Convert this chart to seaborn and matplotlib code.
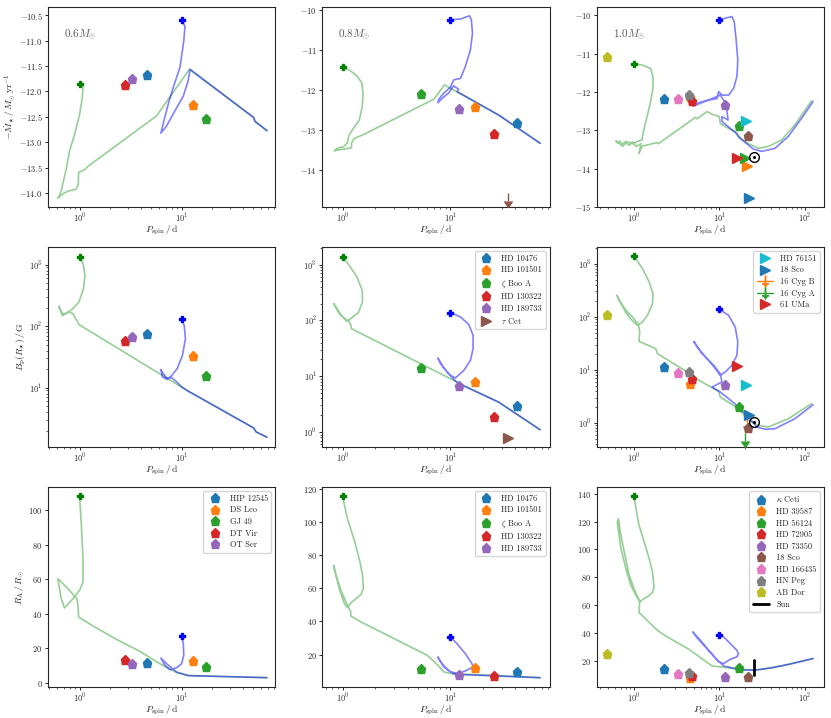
import numpy as np
import pandas as pd
import matplotlib.pyplot as plt
from matplotlib.lines import Line2D
import seaborn as sns

# ---------------------------------------------------------------
# evolution tracks: (P_spin [d], value)
# "fast" = start at 1 d (green), "slow" = start at 10 d (blue)
# ---------------------------------------------------------------
# 0.6 Msun
fast06_mdot = [(1.0, -11.845), (1.08, -11.89), (1.062, -12.12), (1.0, -12.45), (0.893, -12.84),
               (0.797, -13.17), (0.739, -13.52), (0.696, -13.75), (0.660, -13.95), (0.626, -14.08),
               (0.612, -14.09), (0.686, -14.01), (0.768, -13.96), (0.927, -13.92), (0.97, -13.82),
               (0.977, -13.59), (1.12, -13.54), (1.21, -13.47), (5.68, -12.48), (11.9, -11.565),
               (50.7, -12.51), (52.6, -12.59), (68.6, -12.77)]
slow06_mdot = [(10.0, -10.60), (10.8, -10.72), (10.5, -11.01), (9.63, -11.53), (8.28, -11.92),
               (7.39, -12.25), (6.70, -12.58), (6.26, -12.82), (7.12, -12.68), (8.6, -12.38),
               (10.4, -12.09), (11.6, -11.79), (12.1, -11.565), (50.7, -12.51), (52.6, -12.59),
               (68.6, -12.77)]
fast06_B = [(1.0, 1333), (1.08, 1038), (1.13, 671), (1.09, 407), (0.985, 247), (0.847, 188),
            (0.739, 160), (0.676, 150), (0.626, 210), (0.650, 181), (0.696, 154), (0.768, 170),
            (0.859, 160), (0.963, 114), (0.985, 106), (11.2, 9.06), (50.7, 2.21), (53.8, 1.90),
            (68.6, 1.56)]
slow06_B = [(10.0, 132), (10.6, 103), (10.9, 62.6), (10.2, 33.6), (9.06, 20.4), (7.97, 15.5),
            (7.12, 13.7), (6.5, 14.9), (6.26, 19.6), (6.6, 16.9), (7.23, 14.0), (7.97, 14.5),
            (8.93, 12.4), (10.0, 10.3), (11.2, 9.06), (50.7, 2.21), (53.8, 1.90), (68.6, 1.56)]
fast06_RA = [(1.0, 108.1), (1.04, 91.3), (1.08, 72.0), (1.08, 58.4), (1.0, 53.6), (0.86, 48.7),
             (0.711, 43.3), (0.66, 48.7), (0.626, 56.5), (0.612, 60.3), (0.686, 57.4),
             (0.768, 54.5), (0.94, 48.7), (0.963, 44.9), (0.977, 38.1), (1.35, 32.9), (2.30, 25.1),
             (3.89, 18.2), (6.12, 11.0), (8.93, 5.8), (11.6, 4.1), (68.6, 2.9)]
slow06_RA = [(10.0, 27.1), (10.4, 22.6), (10.5, 15.9), (10.0, 11.0), (8.93, 8.7), (7.68, 7.5),
             (6.85, 10.1), (6.26, 14.3), (7.12, 11.0), (8.93, 6.2), (11.6, 4.1), (68.6, 2.9)]

# 0.8 Msun
fast08_mdot = [(1.0, -11.44), (1.15, -11.5), (1.36, -11.65), (1.51, -11.83), (1.55, -12.08),
               (1.52, -12.42), (1.43, -12.75), (1.26, -12.96), (1.15, -13.125), (1.10, -13.33),
               (1.02, -13.42), (0.932, -13.44), (0.868, -13.48), (0.838, -13.52), (0.90, -13.5),
               (1.04, -13.475), (1.21, -13.44), (1.21, -13.33), (1.28, -13.21), (1.53, -13.125),
               (7.02, -12.23), (8.8, -11.875), (27.9, -12.625), (67.7, -13.33)]
slow08_mdot = [(10.0, -10.25), (12.4, -10.23), (15.0, -10.15), (15.6, -10.25), (16.0, -10.58),
               (15.3, -11.0), (13.7, -11.42), (12.4, -11.71), (10.7, -11.75), (10.0, -11.93),
               (8.68, -12.08), (7.8, -12.23), (7.64, -12.32), (8.38, -12.21), (9.66, -12.07),
               (10.7, -11.9), (11.9, -11.98), (11.5, -12.04), (27.9, -12.625), (67.7, -13.33)]
fast08_B = [(1.0, 1372), (1.15, 973), (1.36, 601), (1.52, 347), (1.53, 214), (1.40, 138),
            (1.19, 108), (1.10, 96), (0.932, 132), (0.826, 200), (0.868, 174), (1.0, 115),
            (1.15, 96), (1.19, 84), (1.21, 71), (11.5, 7.87), (27.9, 3.44), (67.7, 1.10)]
slow08_B = [(10.0, 138), (12.4, 115), (14.8, 84), (16.2, 54), (16.2, 31.2), (15.3, 19.3),
            (13.3, 12.7), (11.1, 9.3), (10.0, 10.4), (8.68, 14.0), (7.64, 21.2), (8.09, 16.8),
            (9.31, 11.9), (10.7, 8.8), (11.9, 7.35), (27.9, 3.44), (67.7, 1.10)]
fast08_RA = [(1.0, 115.4), (1.11, 101.9), (1.30, 87.8), (1.45, 75.8), (1.53, 67.8), (1.56, 59.8),
             (1.48, 56.1), (1.33, 53.7), (1.19, 51.1), (1.11, 48.3), (1.04, 50.7), (0.932, 59.8),
             (0.826, 73.8), (0.85, 69.8), (0.965, 58.8), (1.11, 49.7), (1.19, 45.7), (1.19, 43.3),
             (1.48, 39.7), (2.26, 33.7), (3.98, 25.6), (6.09, 19.6), (7.53, 14.0), (8.68, 9.6),
             (10.0, 8.6), (67.7, 6.1)]
slow08_RA = [(10.0, 30.6), (11.5, 26.6), (13.7, 20.6), (15.8, 14.6), (16.2, 12.6), (14.2, 10.6),
             (11.9, 8.6), (10.0, 9.6), (8.68, 12.6), (7.64, 18.6), (8.09, 15.6), (9.31, 11.2),
             (10.7, 8.4), (12.4, 8.0), (67.7, 6.1)]

# 1.0 Msun
fast10_mdot = [(1.0, -11.256), (1.27, -11.30), (1.56, -11.39), (1.66, -11.60), (1.66, -11.91),
               (1.56, -12.25), (1.43, -12.60), (1.31, -12.95), (1.23, -13.25), (1.09, -13.29),
               (0.956, -13.35), (0.80, -13.29), (0.70, -13.38), (0.611, -13.27), (0.64, -13.34),
               (0.68, -13.28), (0.731, -13.42), (0.80, -13.33), (0.875, -13.39), (0.95, -13.30),
               (1.05, -13.42), (1.20, -13.35), (1.14, -13.60), (1.23, -13.42), (1.31, -13.40),
               (1.87, -13.32), (1.92, -13.35), (5.23, -12.66), (5.47, -12.70), (7.15, -12.51),
               (8.18, -12.58), (9.96, -12.64), (10.2, -12.82), (12.8, -12.95), (15.3, -13.05),
               (16.4, -13.16), (21.9, -13.35), (28.6, -13.47), (37.4, -13.42), (53.5, -13.25),
               (76.4, -12.86), (120.0, -12.23)]
slow10_mdot = [(10.0, -10.11), (14.0, -10.03), (14.9, -10.17), (15.7, -10.65), (16.4, -11.17),
               (16.0, -11.60), (14.6, -11.91), (12.8, -12.08), (10.7, -12.08), (9.78, -11.99),
               (9.35, -12.17), (7.48, -12.21), (5.71, -12.28), (4.87, -12.37), (5.71, -12.31),
               (8.18, -12.17), (10.2, -12.08), (11.2, -12.21), (12.2, -12.47), (12.6, -12.73),
               (10.7, -12.64), (10.7, -12.77), (13.4, -12.95), (16.0, -13.08), (17.5, -13.21),
               (25.0, -13.49), (31.3, -13.55), (44.7, -13.47), (64.0, -13.16), (91.4, -12.69),
               (125.0, -12.25)]
fast10_B = [(1.0, 1374), (1.25, 805), (1.50, 452), (1.66, 272), (1.64, 177), (1.43, 106),
            (1.23, 77.4), (1.09, 69), (0.94, 86), (0.80, 119), (0.70, 177), (0.628, 254),
            (0.669, 204), (0.80, 132), (0.956, 99), (1.12, 71), (1.16, 52), (1.14, 34.4),
            (1.79, 25.1), (1.87, 20.2), (5.23, 7.35), (5.47, 6.64), (9.78, 3.94), (10.2, 3.08),
            (16.7, 1.86), (21.9, 1.12), (28.6, 0.90), (37.4, 0.84), (64.0, 1.2), (120.0, 2.31)]
slow10_B = [(10.0, 138), (12.8, 106), (15.3, 64), (16.4, 33.5), (16.0, 18.8), (14.0, 12.2),
            (11.7, 9.12), (10.2, 7.89), (8.94, 10.5), (7.48, 15.1), (6.25, 20.2), (5.0, 34.4),
            (5.47, 27.0), (6.84, 17.5), (8.55, 12.2), (10.2, 8.47), (10.7, 5.9), (8.18, 4.75),
            (10.2, 3.83), (12.8, 2.87), (16.7, 2.0), (21.9, 1.29), (27.3, 0.84), (34.2, 0.76),
            (44.7, 0.78), (76.4, 1.2), (125.0, 2.21)]
fast10_RA = [(1.0, 138.1), (1.05, 129.2), (1.14, 117.3), (1.31, 105.3), (1.50, 93.4), (1.64, 83.8),
             (1.71, 73.1), (1.64, 69.0), (1.47, 66.6), (1.27, 64.2), (1.16, 62.3), (1.05, 67.1),
             (0.914, 74.3), (0.80, 86.2), (0.70, 100.6), (0.634, 119.7), (0.656, 122.1),
             (0.687, 112.5), (0.764, 98.2), (0.875, 81.4), (1.03, 69.5), (1.16, 62.8),
             (1.14, 54.7), (1.87, 42.0), (2.34, 37.9), (4.37, 28.4), (8.18, 16.4), (12.8, 15.0),
             (18.3, 13.8), (26.1, 13.5), (40.9, 15.2), (64.0, 17.6), (125.0, 21.7)]
slow10_RA = [(10.0, 38.9), (11.2, 37.2), (13.4, 32.4), (16.0, 27.6), (16.7, 25.2), (16.0, 22.9),
             (13.4, 21.2), (11.2, 18.1), (9.78, 19.3), (7.48, 27.6), (5.98, 34.8), (4.87, 40.8),
             (5.47, 36.5), (6.84, 30.0), (8.94, 22.1), (11.2, 16.4), (14.0, 15.0), (18.3, 13.5),
             (26.1, 13.3), (40.9, 15.0), (64.0, 17.4), (125.0, 21.7)]

# ---------------------------------------------------------------
# observed stars
# ---------------------------------------------------------------
names06 = ["HIP 12545", "DS Leo", "GJ 49", "DT Vir", "OT Ser"]
P06 = [4.53, 13.0, 17.5, 2.77, 3.25]
mdot06 = [-11.67, -12.26, -12.545, -11.87, -11.754]
B06 = [73.6, 32.7, 15.5, 58.0, 66.7]
RA06 = [11.6, 12.6, 8.9, 13.3, 11.0]

names08 = ["HD 10476", "HD 101501", r"$\zeta$ Boo A", "HD 130322", "HD 189733"]
P08 = [41.2, 16.8, 5.36, 25.1, 11.9]
mdot08 = [-12.82, -12.43, -12.10, -13.10, -12.475]
B08 = [2.92, 7.87, 14.2, 1.83, 6.58]
RA08 = [9.6, 12.2, 11.6, 6.9, 8.0]

# tau Cet: upper limit on mass-loss rate
tau_name = r"$\tau$ Cet"
tau_P = 33.8
tau_mdot = -14.58
tau_mdot_err = 0.2
tau_B = 0.79

names10 = [r"$\kappa$ Ceti", "HD 39587", "HD 56124", "HD 72905", "HD 73350", "18 Sco",
           "HD 166435", "HN Peg", "AB Dor"]
P10 = [2.26, 4.57, 17.0, 4.78, 11.7, 21.5, 3.23, 4.37, 0.476]
mdot10 = [-12.17, -12.14, -12.89, -12.23, -12.34, -13.15, -12.18, -12.08, -11.083]
B10 = [11.3, 5.5, 2.0, 6.82, 5.12, 0.82, 8.85, 9.12, 106.0]
RA10 = [14.0, 7.8, 15.0, 9.5, 8.8, 8.5, 10.4, 11.6, 24.8]

# second set (triangles); B of 16 Cyg A/B are upper limits
tri_names = ["HD 76151", "18 Sco", "16 Cyg B", "16 Cyg A", "61 UMa"]
tri_colors = ["tab:cyan", "tab:blue", "tab:orange", "tab:green", "tab:red"]
tri_P = [20.4, 22.4, 21.0, 19.8, 16.2]
tri_mdot = [-12.75, -14.76, -13.94, -13.72, -13.73]
tri_B = [5.26, 1.43, 1.17, 0.645, 11.8]
tri_B_err = [0.0, 0.0, 0.30, 0.18, 0.0]
tri_B_uplim = [False, False, True, True, False]

sun_P = 25.5
sun_mdot = -13.69
sun_B = 1.04
sun_RA = [9.7, 20.9]

masses = ["0.6", "0.8", "1.0"]
star_colors = sns.color_palette("tab10")

# ---------------------------------------------------------------
sns.set_style("ticks")
plt.rcParams.update({
    "font.family": "serif",
    "font.serif": ["cmr10"],
    "mathtext.fontset": "cm",
    "axes.formatter.use_mathtext": True,
    "axes.linewidth": 0.8,
    "axes.edgecolor": "0.15",
    "xtick.labelsize": 6,
    "ytick.labelsize": 6,
    "xtick.major.size": 2.5,
    "ytick.major.size": 2.5,
    "xtick.minor.size": 1.5,
    "ytick.minor.size": 1.5,
    "xtick.major.width": 0.7,
    "ytick.major.width": 0.7,
    "xtick.minor.width": 0.5,
    "ytick.minor.width": 0.5,
    "xtick.major.pad": 1.0,
    "ytick.major.pad": 1.5,
    "axes.labelsize": 7,
    "legend.fontsize": 6,
    "legend.labelspacing": 0.38,
})

fig, axes = plt.subplots(3, 3, figsize=(8.31, 7.18), dpi=100)
fig.subplots_adjust(left=0.0578, right=0.9916, bottom=0.0432, top=0.9903,
                    wspace=0.207, hspace=0.2)


def track(ax, pts, color, start_color):
    df = pd.DataFrame(pts, columns=["P", "v"])
    sns.lineplot(data=df, x="P", y="v", sort=False, estimator=None, color=color,
                 alpha=0.5, lw=1.2, ax=ax)
    ax.plot(df.P.iloc[0], df.v.iloc[0], "P", color=start_color, ms=4.5, zorder=5)


def stars(ax, names, P, vals, handles):
    for i, (n, p, v) in enumerate(zip(names, P, vals)):
        h, = ax.plot(p, v, "p", color=star_colors[i], ms=6.5, zorder=6, label=n)
        handles.append(h)


def uplim(ax, p, v, err, col):
    # upper limit: bar going down from the value with an arrow head
    ax.errorbar([p], [v], yerr=[err], uplims=True, color=col, lw=1, capsize=0,
                ms=3.5, zorder=5)
    return (Line2D([], [], color=col, lw=1),
            Line2D([], [], color=col, marker=r"$\downarrow$", ms=8, ls="none"))


tracks = [
    [fast06_mdot, slow06_mdot, fast08_mdot, slow08_mdot, fast10_mdot, slow10_mdot],
    [fast06_B, slow06_B, fast08_B, slow08_B, fast10_B, slow10_B],
    [fast06_RA, slow06_RA, fast08_RA, slow08_RA, fast10_RA, slow10_RA],
]
star_sets = [
    [(names06, P06, mdot06), (names08, P08, mdot08), (names10, P10, mdot10)],
    [(names06, P06, B06), (names08, P08, B08), (names10, P10, B10)],
    [(names06, P06, RA06), (names08, P08, RA08), (names10, P10, RA10)],
]

xlims = [(0.49, 83), (0.65, 83), (0.364, 168)]
ylims = [[(-14.27, -10.34), (-14.92, -9.93), (-15.0, -9.78)],
         [(1.08, 1940), (0.54, 2070), (0.353, 2060)],
         [(-2.5, 113.5), (0.5, 121), (1.3, 144.8)]]
yticks = [[np.arange(-14.0, -10.4, 0.5), np.arange(-14, -9.5, 1), np.arange(-15, -9.5, 1)],
          [None, None, None],
          [np.arange(0, 101, 20), np.arange(20, 121, 20), np.arange(20, 141, 20)]]
ylabels = [r"$-\dot{M}_{\star}\,/\,M_{\odot}\,\mathrm{yr}^{-1}$",
           r"$B_{\mathrm{p}}(R_{\star})\,/\,\mathrm{G}$",
           r"$R_{\mathrm{A}}\,/\,R_{\odot}$"]

for r in range(3):
    for c in range(3):
        ax = axes[r, c]
        ax.set_xscale("log")
        if r == 1:
            ax.set_yscale("log")
        track(ax, tracks[r][2 * c], "tab:green", "green")
        track(ax, tracks[r][2 * c + 1], "blue", "blue")
        handles = []
        names, P, vals = star_sets[r][c]
        stars(ax, names, P, vals, handles)

        if c == 1 and r == 0:
            uplim(ax, tau_P, tau_mdot, tau_mdot_err, "tab:brown")
        if c == 1 and r == 1:
            h, = ax.plot(tau_P, tau_B, ">", color="tab:brown", ms=6.5, zorder=6, label=tau_name)
            handles.append(h)

        if c == 2 and r == 0:
            for n, col, p, v in zip(tri_names, tri_colors, tri_P, tri_mdot):
                ax.plot(p, v, ">", color=col, ms=6.5, zorder=6)
            ax.plot(sun_P, sun_mdot, "o", mfc="none", mec="k", mew=1.0, ms=7, zorder=7)
            ax.plot(sun_P, sun_mdot, ".", color="k", ms=2.5, zorder=7)
        if c == 2 and r == 1:
            tri_handles = []
            for n, col, p, v, e, up in zip(tri_names, tri_colors, tri_P, tri_B, tri_B_err, tri_B_uplim):
                if up:
                    h = uplim(ax, p, v, e, col)
                else:
                    h, = ax.plot(p, v, ">", color=col, ms=6.5, zorder=6, label=n)
                tri_handles.append(h)
            ax.plot(sun_P, sun_B, "o", mfc="none", mec="k", mew=1.0, ms=7, zorder=7)
            ax.plot(sun_P, sun_B, ".", color="k", ms=2.5, zorder=7)
            ax.legend(tri_handles, tri_names, loc="upper right")
        if c == 2 and r == 2:
            h, = ax.plot([sun_P, sun_P], sun_RA, "-", color="k", lw=2, zorder=7, label="Sun")
            handles.append(h)

        if (r == 1 and c == 1) or r == 2:
            ax.legend(handles=handles, loc="upper right")

        if r == 0:
            ax.text(0.07, 0.86, r"$%s M_{\odot}$" % masses[c], transform=ax.transAxes,
                    fontsize=8, color="0.35", va="center")

        ax.set_xlim(*xlims[c])
        ax.set_ylim(*ylims[r][c])
        if yticks[r][c] is not None:
            ax.set_yticks(yticks[r][c])
        ax.set_xlabel(r"$P_{\mathrm{spin}}\,/\,\mathrm{d}$", labelpad=-1)
        ax.set_ylabel(ylabels[r] if c == 0 else "", labelpad=1)

fig.savefig("out.png", dpi=100)
